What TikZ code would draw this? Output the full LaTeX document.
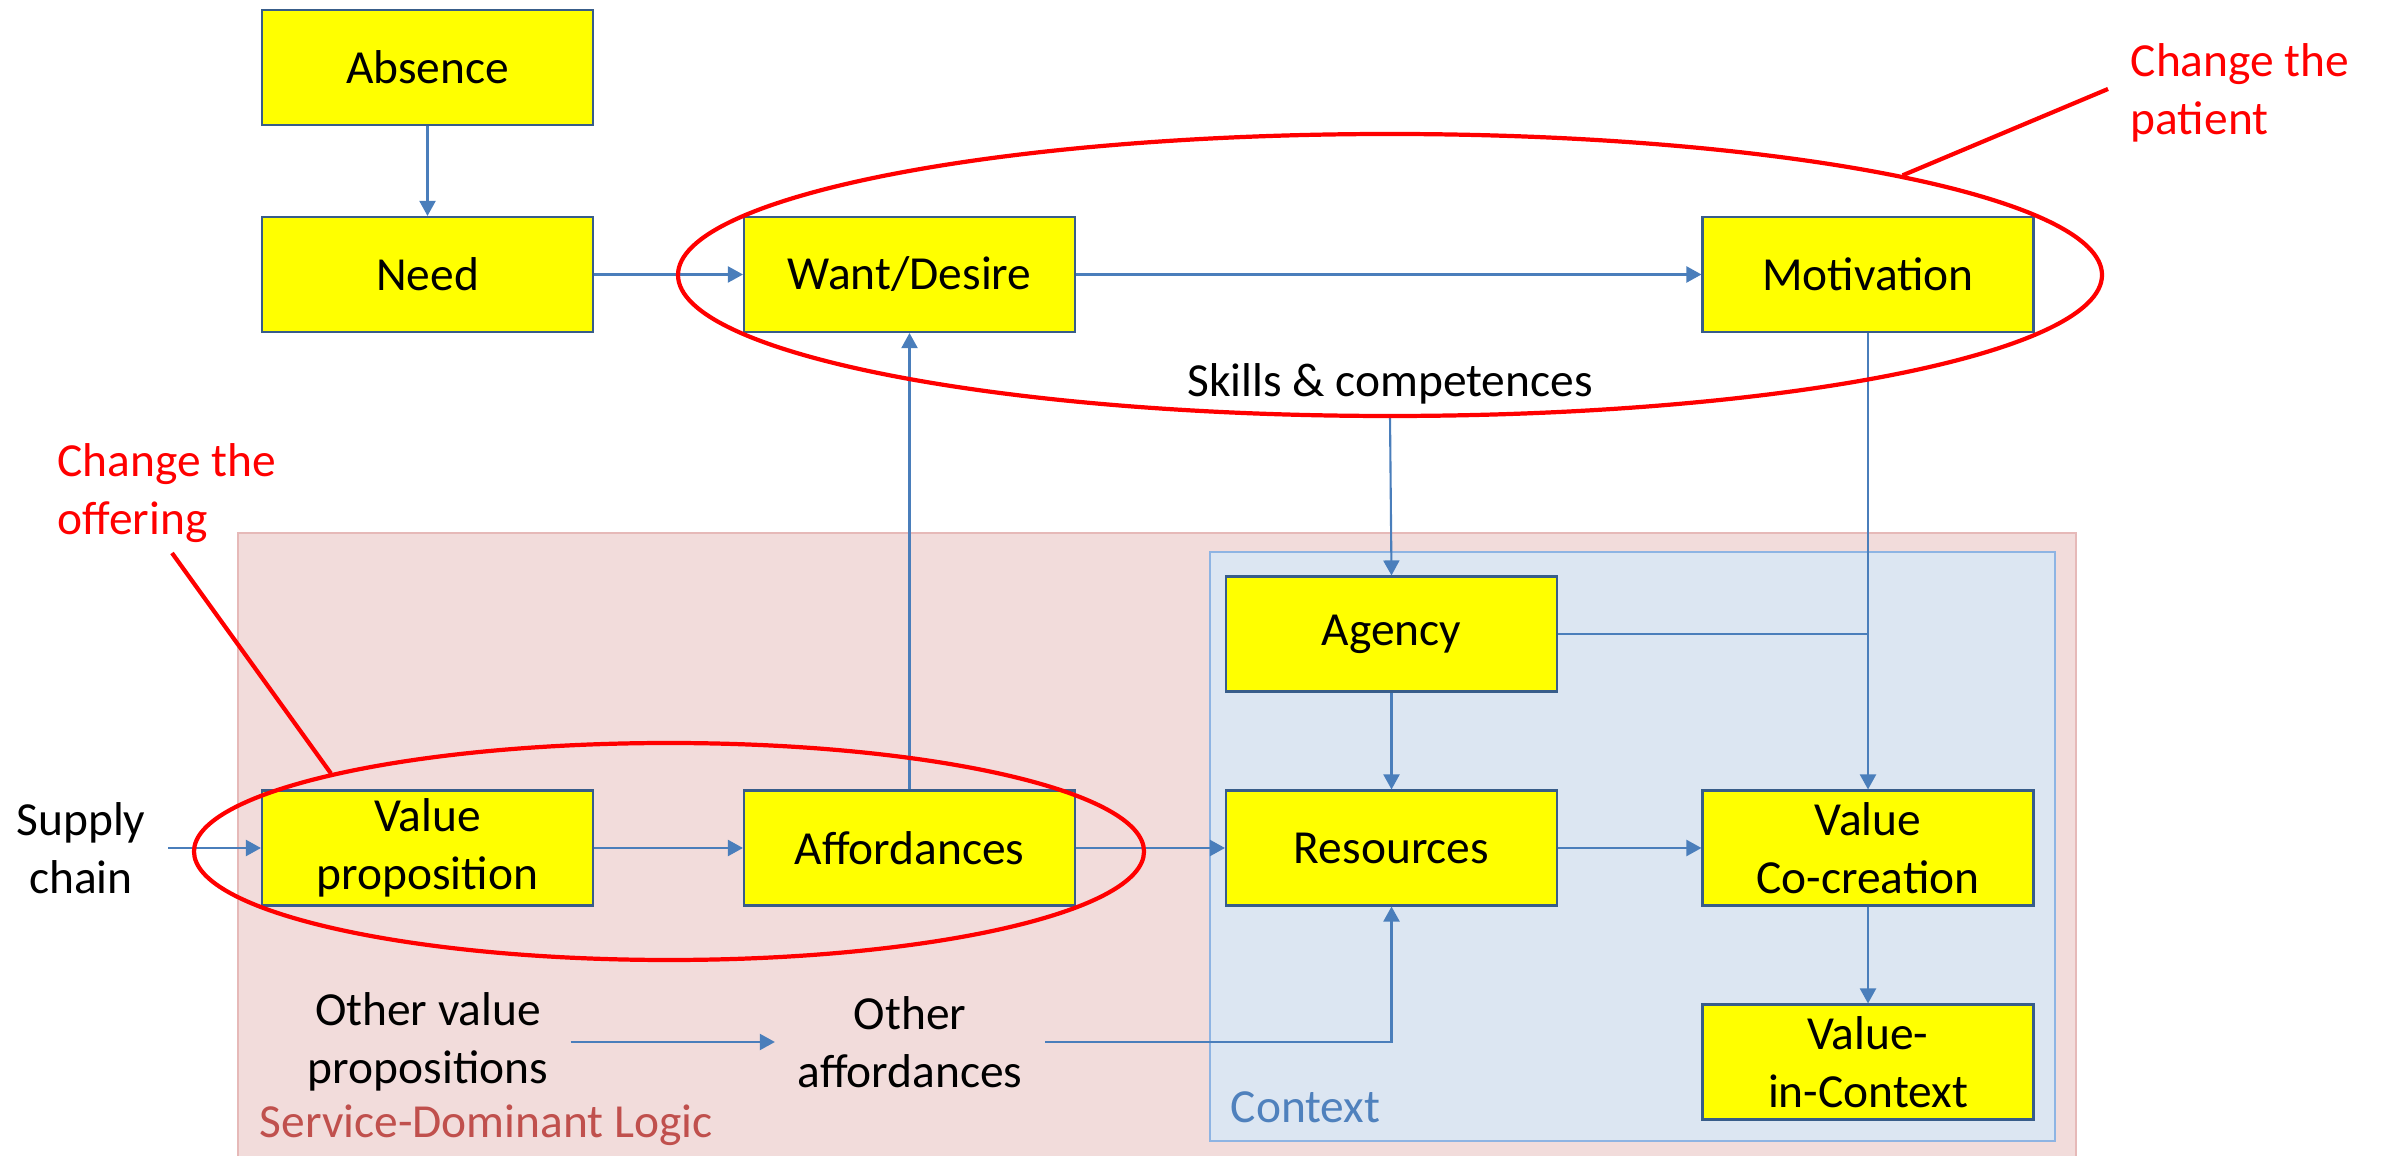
\documentclass[tikz,border=0pt]{standalone}
\usepackage{fontspec}
\setmainfont{Carlito}
\usetikzlibrary{arrows.meta,shapes.geometric}
\definecolor{boxyellow}{RGB}{255,255,0}
\definecolor{boxline}{RGB}{56,93,138}
\definecolor{arrowblue}{RGB}{74,126,187}
\definecolor{sdlpink}{RGB}{242,220,219}
\definecolor{sdlline}{RGB}{230,185,184}
\definecolor{sdltext}{RGB}{192,80,77}
\definecolor{ctxblue}{RGB}{220,230,242}
\definecolor{ctxline}{RGB}{142,180,227}
\definecolor{ctxtext}{RGB}{79,129,189}
\definecolor{myred}{RGB}{255,0,0}

\begin{document}
\begin{tikzpicture}[
    font=\fontsize{13.5}{16.6}\selectfont,
    box/.style={draw=boxline, fill=boxyellow, line width=0.6pt, minimum width=3.31cm, minimum height=1.15cm, align=center, inner sep=0pt},
    flow/.style={draw=arrowblue, line width=0.6pt, -{Triangle[length=0.15cm, width=0.16cm]}},
    link/.style={draw=arrowblue, line width=0.6pt},
    plain/.style={align=center, inner xsep=0.22cm},
    ring/.style={draw=myred, line width=1.2pt, ellipse, inner sep=0pt},
]

\useasboundingbox (0, 0) rectangle (23.85, -11.56);

% Background areas
\draw[sdlline, fill=sdlpink, line width=0.6pt] (2.38, -5.33) rectangle (20.76, -11.80);
\draw[ctxline, fill=ctxblue, line width=0.7pt] (12.10, -5.52) rectangle (20.55, -11.41);
\node[anchor=base west, inner sep=0pt, text=sdltext] (sdl) at (2.59, -11.37) {Service-Dominant Logic};
\node[anchor=base west, inner sep=0pt, text=ctxtext] (ctx) at (12.30, -11.22) {Context};

% Defining nodes.
\draw (4.275, -0.675) node[box] (absence) {Absence};
\draw (4.275, -2.745) node[box] (need) {Need};
\draw (9.095, -2.745) node[box] (want) {Want/Desire};
\draw (18.68, -2.745) node[box] (motivation) {Motivation};
\draw (4.275, -8.48) node[box] (valueprop) {Value\\proposition};
\draw (9.095, -8.48) node[box] (affordances) {Affordances};
\draw (13.915, -6.34) node[box] (agency) {Agency};
\draw (13.915, -8.48) node[box] (resources) {Resources};
\draw (18.68, -8.48) node[box] (cocreation) {Value\\Co-creation};
\draw (18.68, -10.62) node[box] (incontext) {Value-\\in-Context};

% Free labels
\node[plain] (skills) at (13.90, -3.84) {Skills \& competences};
\node[plain] (supply) at (0.81, -8.48) {Supply\\chain};
\node[plain] (othervp) at (4.28, -10.42) {Other value\\propositions};
\node[plain] (otheraff) at (9.10, -10.42) {Other\\affordances};

% Connectors
\draw[flow] (absence) -- (need);
\draw[flow] (need) -- (want);
\draw[flow] (want) -- (motivation);
\draw[flow] (affordances) -- (want);
\draw[flow] (skills.south) -- (agency.north);
\draw[flow] (motivation) -- (cocreation);
\draw[link] (agency.east) -- (agency.east -| cocreation.north);
\draw[flow] (agency) -- (resources);
\draw[flow] (supply.east) -- (valueprop.west);
\draw[flow] (valueprop) -- (affordances);
\draw[flow] (affordances) -- (resources);
\draw[flow] (resources) -- (cocreation);
\draw[flow] (cocreation) -- (incontext);
\draw[flow] (othervp.east) -- (otheraff.west);
\draw[flow] (otheraff.east) -| (resources.south);

% Red rings and callouts
\node[ring, minimum width=14.24cm, minimum height=2.82cm] (patientring) at (13.90, -2.75) {};
\node[ring, minimum width=9.50cm, minimum height=2.17cm] (offerring) at (6.69, -8.515) {};
\coordinate (patienttip) at (21.08, -0.89);
\coordinate (offertip) at (1.72, -5.53);
\draw[myred, line width=1.2pt] (patientring.11) -- (patienttip);
\draw[myred, line width=1.2pt] (offerring.167) -- (offertip);
\node[anchor=west, align=left, inner sep=0pt, text=myred] (patienttext) at (21.30, -0.93) {Change the\\patient};
\node[anchor=west, align=left, inner sep=0pt, text=myred] (offertext) at (0.57, -4.93) {Change the\\offering};

\end{tikzpicture}
\end{document}
